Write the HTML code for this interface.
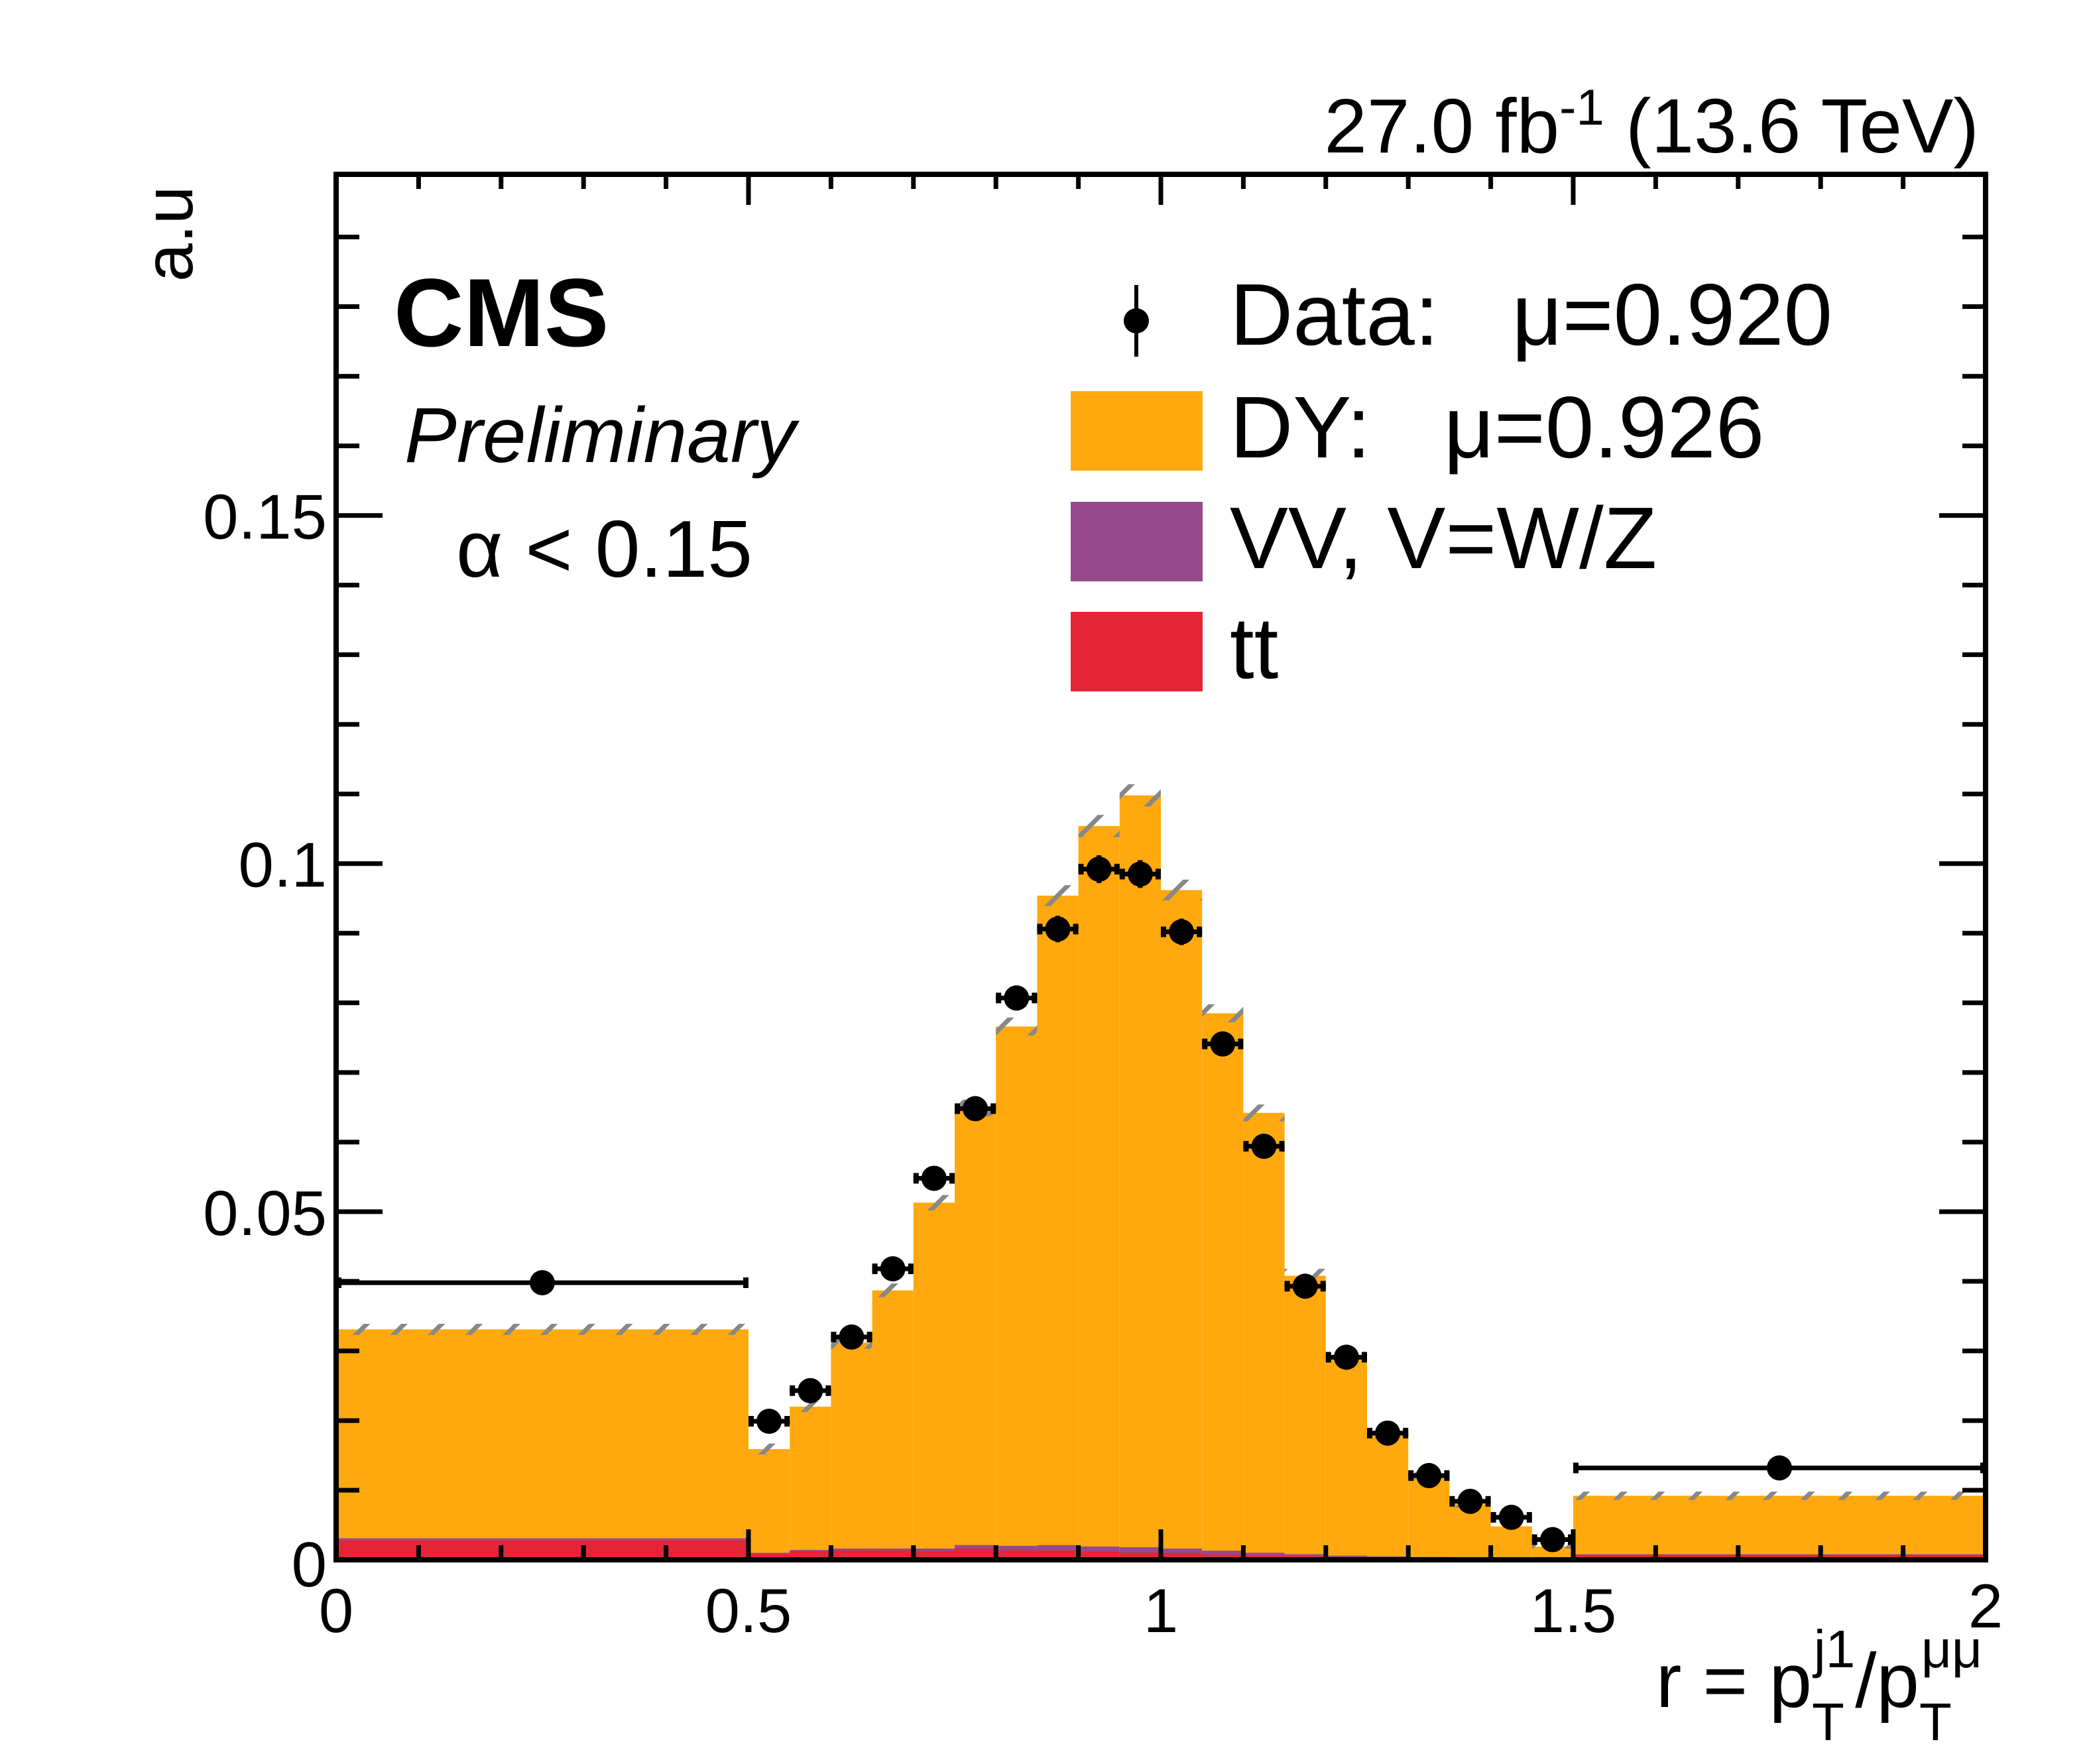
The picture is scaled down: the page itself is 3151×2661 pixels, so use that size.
<!DOCTYPE html>
<html><head><meta charset="utf-8">
<style>
html,body{margin:0;padding:0;background:#fff;}
svg{display:block;}
text{font-family:"Liberation Sans",sans-serif;fill:#000;white-space:pre;}
</style></head>
<body>
<svg id="chart" width="3151" height="2661" viewBox="0 0 3151 2661" xmlns="http://www.w3.org/2000/svg" xml:space="preserve">
<defs>
<pattern id="hatch" patternUnits="userSpaceOnUse" width="40" height="40" patternTransform="rotate(45)">
<rect x="0" y="0" width="7" height="40" fill="#888"/>
</pattern>
<clipPath id="plotclip"><rect x="507" y="263" width="2488" height="2090"/></clipPath>
</defs>
<g id="marks" clip-path="url(#plotclip)"></g>
<g id="axes"></g>
<text x="2985" y="230" font-size="116" text-anchor="end">27.0 fb<tspan dy="-42" font-size="76">-1</tspan><tspan dy="42"> (13.6 TeV)</tspan></text>
<text x="594" y="522" font-size="146" font-weight="bold">CMS</text>
<text x="610" y="697" font-size="118" font-style="italic">Preliminary</text>
<text x="688" y="870" font-size="122">α &lt; 0.15</text>
<text transform="translate(290,425) rotate(-90)" font-size="104">a.u</text>
<text x="2990" y="2575" font-size="116" text-anchor="end">r = p<tspan dy="50" font-size="80">T</tspan><tspan dx="-46" dy="-110" font-size="80">j1</tspan><tspan dy="60">/p</tspan><tspan dy="50" font-size="80">T</tspan><tspan dx="-46" dy="-110" font-size="80">μμ</tspan></text>
<g>
<g>
<line x1="1714" y1="430" x2="1714" y2="538" stroke="#000" stroke-width="6"/>
<circle cx="1714" cy="484" r="19" fill="#000"/>
<text x="1855" y="520" font-size="132">Data:   μ=0.920</text>
</g>
<g>
<rect x="1615" y="590" width="199" height="120" fill="#ffa90e"/>
<text x="1855" y="690" font-size="132">DY:   μ=0.926</text>
</g>
<g>
<rect x="1615" y="757" width="199" height="120" fill="#964a8b"/>
<text x="1855" y="857" font-size="132">VV, V=W/Z</text>
</g>
<g>
<rect x="1615" y="923" width="199" height="120" fill="#e42536"/>
<text x="1855" y="1023" font-size="132">tt</text>
</g>
</g>
</svg>
<script>
const binEdges = [0,0.5,0.55,0.6,0.65,0.7,0.75,0.8,0.85,0.9,0.95,1.0,1.05,1.1,1.15,1.2,1.25,1.3,1.35,1.4,1.45,1.5,2.0];
const ttValues = [0.0028,0.00084,0.00124,0.00134,0.00134,0.00121,0.00162,0.00134,0.00134,0.00114,0.00104,0.00098,0.00074,0.0006,0.0005,0.0004,0.0003,0.0002,0.0002,0.0001,0.0001,0.0007];
const vvValues = [0.0003,0.00017,0.00017,0.00028,0.00028,0.00041,0.0005,0.00068,0.00078,0.00078,0.00078,0.00064,0.00057,0.00041,0.00031,0.0002,0.0002,0.0002,0.0001,0.0001,0.0001,0.0001];
const totalMC = [0.0331,0.0159,0.0220,0.0312,0.0387,0.0513,0.0649,0.0766,0.0954,0.1054,0.1098,0.0962,0.0785,0.0642,0.0408,0.0291,0.0182,0.0121,0.0080,0.0048,0.0019,0.0092];
const mcUnc = [0.0008,0.0008,0.0008,0.0009,0.0010,0.0011,0.0012,0.0013,0.0015,0.0016,0.0016,0.0015,0.0013,0.0012,0.0010,0.0009,0.0008,0.0006,0.0005,0.0004,0.0003,0.0006];
const dataValues = [0.0398,0.0199,0.0243,0.0320,0.0418,0.0548,0.0648,0.0807,0.0906,0.0992,0.0985,0.0902,0.0741,0.0594,0.0393,0.0291,0.0182,0.0121,0.0084,0.0061,0.0029,0.0132];
const dataErr = [0.0006,0.0008,0.0009,0.0011,0.0013,0.0015,0.0016,0.0018,0.0019,0.0020,0.0020,0.0019,0.0017,0.0015,0.0012,0.0010,0.0008,0.0007,0.0006,0.0005,0.0004,0.0004];
const yTickLabels = ["0","0.05","0.1","0.15"];
const yTickValues = [0,0.05,0.1,0.15];
const xTickLabels = ["0","0.5","1","1.5","2"];
const xTickValues = [0,0.5,1,1.5,2];

const X0=507,X1=2995,Y0=2353,YT=263,XMAX=2,YMAX=0.199;
function sx(v){return X0+(X1-X0)*v/XMAX;}
function sy(v){return Y0-(Y0-YT)*v/YMAX;}
const NS="http://www.w3.org/2000/svg";
function mk(tag,attrs,parent){const e=document.createElementNS(NS,tag);for(const k in attrs)e.setAttribute(k,attrs[k]);parent.appendChild(e);return e;}
const marks=document.getElementById('marks');
const axes=document.getElementById('axes');

for(let i=0;i<totalMC.length;i++){
  const xa=sx(binEdges[i]),xb=sx(binEdges[i+1]);
  const dy=mk('rect',{x:xa,y:sy(totalMC[i]),width:xb-xa,height:Y0-sy(totalMC[i]),fill:'#ffa90e'},marks);
  
  
  const vvTop=ttValues[i]+vvValues[i];
  const vv=mk('rect',{x:xa,y:sy(vvTop),width:xb-xa,height:Y0-sy(vvTop),fill:'#964a8b'},marks);
  
  
  const tt=mk('rect',{x:xa,y:sy(ttValues[i]),width:xb-xa,height:Y0-sy(ttValues[i]),fill:'#e42536'},marks);
  
  
  const h=mk('rect',{x:xa,y:sy(totalMC[i]+mcUnc[i]),width:xb-xa,height:sy(totalMC[i]-mcUnc[i])-sy(totalMC[i]+mcUnc[i]),fill:'url(#hatch)'},marks);
  
  
}
for(let i=0;i<dataValues.length;i++){
  const xa=sx(binEdges[i]),xb=sx(binEdges[i+1]),xc=(xa+xb)/2,yc=sy(dataValues[i]);
  const g=mk('g',{},marks);
  
  
  mk('line',{x1:xa,y1:yc,x2:xb,y2:yc,stroke:'#000','stroke-width':7},g);
  mk('rect',{x:xa,y:yc-8,width:8,height:16,fill:'#000'},g);
  mk('rect',{x:xb-8,y:yc-8,width:8,height:16,fill:'#000'},g);
  const yu=sy(dataValues[i]+dataErr[i]),yd=sy(dataValues[i]-dataErr[i]);
  mk('line',{x1:xc,y1:yu,x2:xc,y2:yd,stroke:'#000','stroke-width':7},g);
  if(yc-yu>22){mk('rect',{x:xc-8,y:yu,width:16,height:8,fill:'#000'},g);mk('rect',{x:xc-8,y:yd-8,width:16,height:8,fill:'#000'},g);}
  mk('circle',{cx:xc,cy:yc,r:19,fill:'#000'},g);
}
const fr=mk('rect',{x:X0,y:YT,width:X1-X0,height:Y0-YT,fill:'none',stroke:'#000','stroke-width':8},axes);


for(let k=0;k<=19;k++){
  const v=k*0.01,y=sy(v),L=(k%5===0)?70:35;
  mk('line',{x1:X0,y1:y,x2:X0+L,y2:y,stroke:'#000','stroke-width':7},axes);
  mk('line',{x1:X1,y1:y,x2:X1-L,y2:y,stroke:'#000','stroke-width':7},axes);
}
for(let i=0;i<yTickValues.length;i++){
  const t=mk('text',{x:493,y:sy(yTickValues[i])+(i===0?40:35),'font-size':96,'text-anchor':'end'},axes);
  t.textContent=yTickLabels[i];
  
  
}
for(let k=0;k<=20;k++){
  const x=sx(k*0.1),L=(k%5===0)?46:22;
  mk('line',{x1:x,y1:Y0,x2:x,y2:Y0-L,stroke:'#000','stroke-width':7},axes);
  mk('line',{x1:x,y1:YT,x2:x,y2:YT+L,stroke:'#000','stroke-width':7},axes);
}
for(let i=0;i<xTickValues.length;i++){
  const t=mk('text',{x:sx(xTickValues[i]),y:i===4?2455:2462,'font-size':94,'text-anchor':'middle'},axes);
  t.textContent=xTickLabels[i];
  
  
}
</script>
</body></html>
